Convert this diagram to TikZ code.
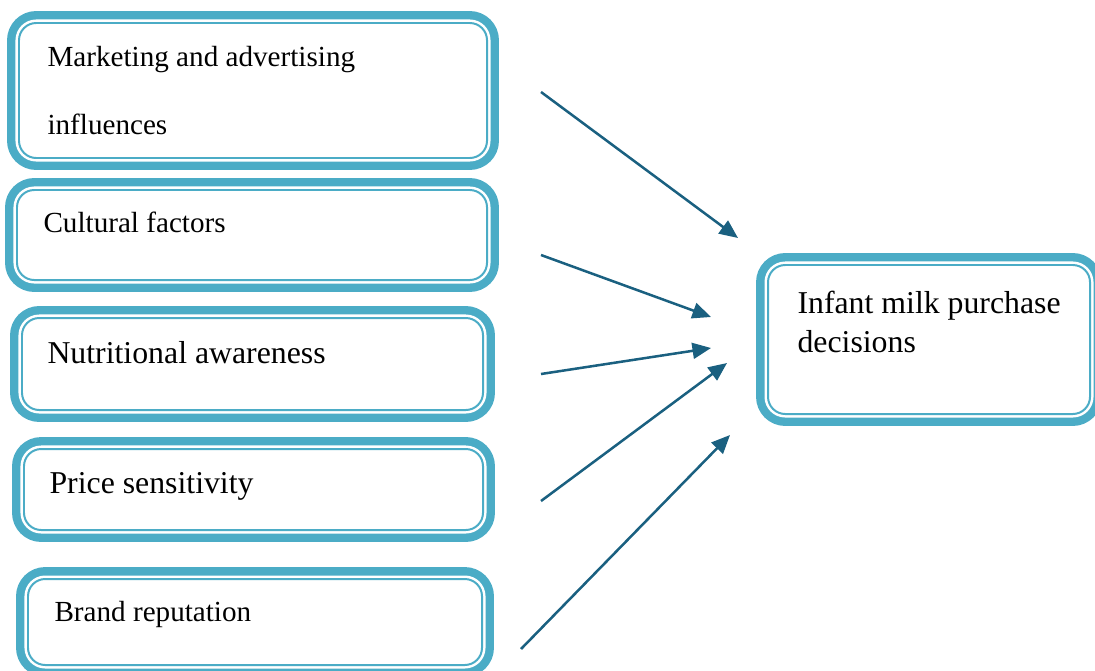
\documentclass[tikz,border=0pt]{standalone}
\usepackage{fontspec}
\setmainfont{Liberation Serif}
\usetikzlibrary{arrows.meta,fit}
\usepackage{xcolor}
\definecolor{box-band}{RGB}{75,172,198}
\definecolor{link-line}{RGB}{26,96,128}

\tikzset{
	factor/.style={rounded corners=6.5pt, draw=box-band, line width=0.75pt, inner sep=0pt,
		preaction={draw=box-band, line width=9pt},
		preaction={fill=white},
		preaction={draw=white, line width=2.65pt}},
	small text/.style={anchor=base west, inner sep=0pt, align=left, font=\fontsize{11}{25.3}\selectfont},
	large text/.style={anchor=base west, inner sep=0pt, align=left, font=\fontsize{12}{14.7}\selectfont},
	link/.style={link-line, line width=0.95pt, -{Triangle[length=7pt,width=6pt]}}
}

\begin{document}
\begin{tikzpicture}[x=0.3774pt,y=-0.3774pt]
	\useasboundingbox (0,0) rectangle (1095,670);
	\clip (0,0) rectangle (1095,670);
	% factor boxes
	\node (marketing) [factor, fit={(19,23) (487,158)}] {};
	\node (cultural) [factor, fit={(17,190) (487,280)}] {};
	\node (nutrition) [factor, fit={(22,318) (483,410)}] {};
	\node (price) [factor, fit={(24,449) (483,530)}] {};
	\node (brand) [factor, fit={(28,579) (482,665)}] {};
	\node (decision) [factor, fit={(768,265) (1090,414)}] {};
	% texts (base is the last line)
	\node (marketing-text) [small text] at (47,134) {Marketing and advertising\\influences};
	\node (cultural-text) [small text] at (43,232) {Cultural factors};
	\node (nutrition-text) [large text] at (47,363) {Nutritional awareness};
	\node (price-text) [large text] at (49,493) {Price sensitivity};
	\node (brand-text) [small text] at (54,621) {Brand reputation};
	\node (decision-text) [large text] at (797,352) {Infant milk purchase\\decisions};
	% arrow ends
	\coordinate (m-start) at (541,92);
	\coordinate (m-end) at (738,238);
	\coordinate (c-start) at (541,255);
	\coordinate (c-end) at (711,317);
	\coordinate (n-start) at (541,374);
	\coordinate (n-end) at (711,348);
	\coordinate (p-start) at (541,501);
	\coordinate (p-end) at (727,363);
	\coordinate (b-start) at (521,649);
	\coordinate (b-end) at (730,435);
	\foreach \f in {m,c,n,p,b}
		\draw [link] (\f-start) -- (\f-end);
\end{tikzpicture}
\end{document}
